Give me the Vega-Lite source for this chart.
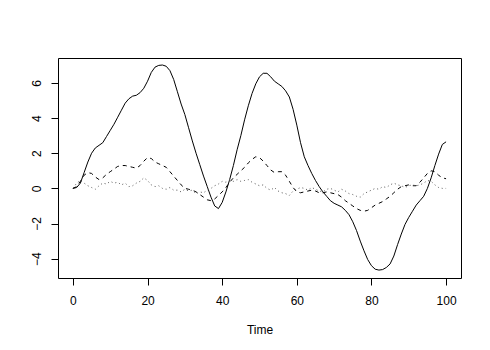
{
  "$schema": "https://vega.github.io/schema/vega-lite/v6.json",
  "width": 403,
  "height": 220,
  "autosize": {"type": "none"},
  "padding": {"left": 58, "top": 58, "right": 29, "bottom": 72},
  "background": "white",
  "config": {
    "view": {"stroke": "black", "strokeWidth": 1},
    "font": "Liberation Sans",
    "axis": {
      "domain": false, "grid": false, "tickColor": "black", "tickSize": 7, "tickWidth": 1,
      "labelFont": "Liberation Sans", "labelFontSize": 12, "labelColor": "black",
      "titleFont": "Liberation Sans", "titleFontSize": 12, "titleFontWeight": "normal", "titleColor": "black"
    }
  },
  "data": {"values": [
    {"t":0,"a":0,"b":0,"c":0},
    {"t":1,"a":0.05,"b":0.1,"c":0.3},
    {"t":2,"a":0.3,"b":0.4,"c":0.45},
    {"t":3,"a":0.9,"b":0.75,"c":0.3},
    {"t":4,"a":1.5,"b":0.9,"c":0.15},
    {"t":5,"a":2.0,"b":0.85,"c":0.05},
    {"t":6,"a":2.3,"b":0.65,"c":-0.05},
    {"t":7,"a":2.45,"b":0.5,"c":0.15},
    {"t":8,"a":2.6,"b":0.6,"c":0.3},
    {"t":9,"a":2.95,"b":0.8,"c":0.25},
    {"t":10,"a":3.3,"b":0.95,"c":0.4},
    {"t":11,"a":3.65,"b":1.1,"c":0.3},
    {"t":12,"a":4.05,"b":1.25,"c":0.35},
    {"t":13,"a":4.45,"b":1.3,"c":0.2},
    {"t":14,"a":4.85,"b":1.3,"c":0.3},
    {"t":15,"a":5.1,"b":1.25,"c":0.1},
    {"t":16,"a":5.25,"b":1.2,"c":0.15},
    {"t":17,"a":5.3,"b":1.15,"c":0.3},
    {"t":18,"a":5.45,"b":1.3,"c":0.4},
    {"t":19,"a":5.7,"b":1.55,"c":0.6},
    {"t":20,"a":6.1,"b":1.75,"c":0.45},
    {"t":21,"a":6.6,"b":1.7,"c":0.2},
    {"t":22,"a":6.9,"b":1.5,"c":0.1},
    {"t":23,"a":7.0,"b":1.4,"c":0.15},
    {"t":24,"a":7.02,"b":1.3,"c":0.0},
    {"t":25,"a":6.95,"b":1.2,"c":-0.05},
    {"t":26,"a":6.7,"b":0.95,"c":0.05},
    {"t":27,"a":6.2,"b":0.7,"c":-0.1},
    {"t":28,"a":5.5,"b":0.45,"c":-0.1},
    {"t":29,"a":4.8,"b":0.2,"c":-0.2},
    {"t":30,"a":4.2,"b":0.0,"c":-0.05},
    {"t":31,"a":3.45,"b":-0.05,"c":-0.15},
    {"t":32,"a":2.7,"b":-0.1,"c":-0.1},
    {"t":33,"a":2.0,"b":-0.2,"c":-0.3},
    {"t":34,"a":1.35,"b":-0.35,"c":-0.2},
    {"t":35,"a":0.7,"b":-0.5,"c":-0.25},
    {"t":36,"a":0.1,"b":-0.65,"c":-0.1},
    {"t":37,"a":-0.5,"b":-0.7,"c":0.0},
    {"t":38,"a":-1.0,"b":-0.6,"c":0.15},
    {"t":39,"a":-1.15,"b":-0.4,"c":0.25},
    {"t":40,"a":-0.8,"b":-0.2,"c":0.4},
    {"t":41,"a":-0.2,"b":0.05,"c":0.35},
    {"t":42,"a":0.5,"b":0.35,"c":0.45},
    {"t":43,"a":1.3,"b":0.6,"c":0.4},
    {"t":44,"a":2.2,"b":0.8,"c":0.5},
    {"t":45,"a":3.0,"b":1.0,"c":0.4},
    {"t":46,"a":3.9,"b":1.2,"c":0.45},
    {"t":47,"a":4.7,"b":1.45,"c":0.5},
    {"t":48,"a":5.4,"b":1.65,"c":0.35},
    {"t":49,"a":5.95,"b":1.8,"c":0.25},
    {"t":50,"a":6.35,"b":1.75,"c":0.15},
    {"t":51,"a":6.55,"b":1.55,"c":0.2},
    {"t":52,"a":6.55,"b":1.3,"c":0.0},
    {"t":53,"a":6.35,"b":1.05,"c":-0.1},
    {"t":54,"a":6.1,"b":0.9,"c":0.05},
    {"t":55,"a":5.95,"b":0.95,"c":-0.15},
    {"t":56,"a":5.8,"b":0.95,"c":-0.25},
    {"t":57,"a":5.55,"b":0.75,"c":-0.3},
    {"t":58,"a":5.2,"b":0.4,"c":-0.4},
    {"t":59,"a":4.5,"b":0.05,"c":-0.15},
    {"t":60,"a":3.6,"b":-0.2,"c":-0.05},
    {"t":61,"a":2.6,"b":-0.25,"c":0.05},
    {"t":62,"a":1.8,"b":-0.2,"c":0.0},
    {"t":63,"a":1.3,"b":-0.15,"c":-0.1},
    {"t":64,"a":0.85,"b":-0.1,"c":0.05},
    {"t":65,"a":0.45,"b":-0.15,"c":-0.05},
    {"t":66,"a":0.1,"b":-0.25,"c":-0.15},
    {"t":67,"a":-0.2,"b":-0.25,"c":-0.2},
    {"t":68,"a":-0.45,"b":-0.2,"c":-0.05},
    {"t":69,"a":-0.7,"b":-0.25,"c":0.0},
    {"t":70,"a":-0.85,"b":-0.3,"c":-0.1},
    {"t":71,"a":-0.95,"b":-0.35,"c":-0.2},
    {"t":72,"a":-1.05,"b":-0.5,"c":-0.05},
    {"t":73,"a":-1.25,"b":-0.7,"c":-0.15},
    {"t":74,"a":-1.5,"b":-0.85,"c":-0.3},
    {"t":75,"a":-1.9,"b":-1.0,"c":-0.35},
    {"t":76,"a":-2.4,"b":-1.15,"c":-0.45},
    {"t":77,"a":-3.0,"b":-1.25,"c":-0.5},
    {"t":78,"a":-3.55,"b":-1.3,"c":-0.3},
    {"t":79,"a":-4.05,"b":-1.25,"c":-0.2},
    {"t":80,"a":-4.4,"b":-1.1,"c":-0.1},
    {"t":81,"a":-4.6,"b":-0.95,"c":0.0},
    {"t":82,"a":-4.65,"b":-0.85,"c":-0.05},
    {"t":83,"a":-4.62,"b":-0.75,"c":0.1},
    {"t":84,"a":-4.5,"b":-0.6,"c":0.05},
    {"t":85,"a":-4.3,"b":-0.45,"c":0.2},
    {"t":86,"a":-3.85,"b":-0.25,"c":0.3},
    {"t":87,"a":-3.2,"b":-0.05,"c":0.2},
    {"t":88,"a":-2.6,"b":0.1,"c":0.15},
    {"t":89,"a":-2.05,"b":0.15,"c":0.05},
    {"t":90,"a":-1.65,"b":0.2,"c":0.15},
    {"t":91,"a":-1.3,"b":0.15,"c":0.2},
    {"t":92,"a":-0.95,"b":0.15,"c":0.15},
    {"t":93,"a":-0.7,"b":0.35,"c":0.2},
    {"t":94,"a":-0.45,"b":0.6,"c":0.3},
    {"t":95,"a":0.0,"b":0.85,"c":0.45},
    {"t":96,"a":0.6,"b":1.0,"c":0.4},
    {"t":97,"a":1.3,"b":0.95,"c":0.2},
    {"t":98,"a":1.95,"b":0.75,"c":0.05},
    {"t":99,"a":2.5,"b":0.6,"c":0.0},
    {"t":100,"a":2.65,"b":0.55,"c":0.0}
  ]},
  "encoding": {
    "x": {"field": "t", "type": "quantitative",
      "scale": {"domain": [-4, 104], "nice": false, "zero": false},
      "axis": {"values": [0, 20, 40, 60, 80, 100], "title": "Time", "labelPadding": 10, "titlePadding": 18, "labelFlush": false}}
  },
  "layer": [
    {"mark": {"type": "line", "color": "black", "strokeWidth": 1},
     "encoding": {"y": {"field": "a", "type": "quantitative",
       "scale": {"domain": [-5.1, 7.42], "nice": false, "zero": false},
       "axis": {"values": [-4, -2, 0, 2, 4, 6], "title": null, "labelAngle": -90, "labelAlign": "center", "labelBaseline": "bottom", "labelPadding": 8, "labelFlush": false}}}},
    {"mark": {"type": "line", "color": "black", "strokeWidth": 1, "strokeDash": [4, 4]},
     "encoding": {"y": {"field": "b", "type": "quantitative"}}},
    {"mark": {"type": "line", "color": "#555555", "strokeWidth": 1, "strokeDash": [1, 3]},
     "encoding": {"y": {"field": "c", "type": "quantitative"}}}
  ]
}
